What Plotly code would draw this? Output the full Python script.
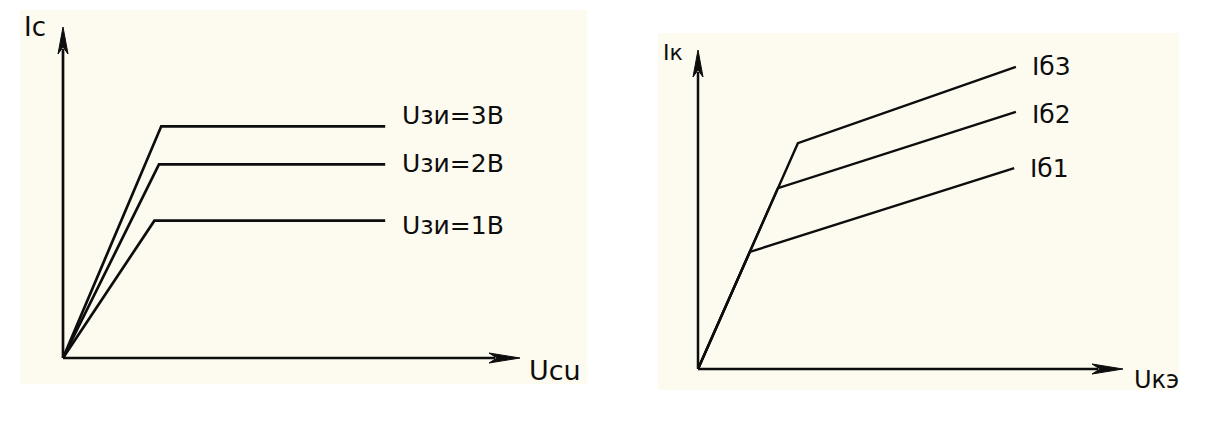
import plotly.graph_objects as go

# ---------------- data ----------------
# Left: field-effect transistor output characteristics
usi_labels = ["Uзи=1В", "Uзи=2В", "Uзи=3В"]
ic_knee_u = [2.0, 2.1, 2.15]      # Uси where saturation starts
ic_sat = [4.15, 5.85, 7.0]        # saturation current Ic
ic_end_u = [7.05, 7.05, 7.05]     # end of drawn curve

# Right: bipolar transistor output characteristics
ib_labels = ["Iб1", "Iб2", "Iб3"]
ik_knee_u = [1.22, 1.88, 2.35]
ik_knee_i = [3.67, 5.67, 7.08]
ik_end_u = [7.44, 7.48, 7.48]
ik_end_i = [6.30, 8.06, 9.47]

axis_max = 10

# ---------------- layout constants ----------------
W, H = 1222, 424
FONT = "DejaVu Sans, Liberation Sans, Arial, sans-serif"
CREAM = "#fdfbf0"
INK = "#0d0d0d"
PAD = 14  # px of padding around the axis box so marks on the axes are not clipped

# axis-box pixel positions: (origin x, arrow-tip x, origin y, arrow-tip y)
BOX_L = (63, 520, 358, 27)
BOX_R = (698, 1123, 369, 50)


def px_x(p):
    return p / W


def px_y(p):
    return 1 - p / H


def axes_for(box, anchor):
    l, r, b, t = box
    ux = axis_max / (r - l)
    uy = axis_max / (b - t)
    common = dict(showgrid=False, zeroline=False, showticklabels=False, ticks="",
                  showline=False, fixedrange=True)
    xa = dict(domain=[px_x(l - PAD), px_x(r + PAD)],
              range=[-PAD * ux, axis_max + PAD * ux], anchor=anchor[1], **common)
    ya = dict(domain=[px_y(b + PAD), px_y(t - PAD)],
              range=[-PAD * uy, axis_max + PAD * uy], anchor=anchor[0], **common)
    return xa, ya, ux, uy


xL, yL, uxL, uyL = axes_for(BOX_L, ("x", "y"))
xR, yR, uxR, uyR = axes_for(BOX_R, ("x2", "y2"))

fig = go.Figure()

# left curves
for i in range(3):
    fig.add_trace(go.Scatter(
        x=[0, ic_knee_u[i], ic_end_u[i]], y=[0, ic_sat[i], ic_sat[i]],
        mode="lines", line=dict(color=INK, width=2.7),
        xaxis="x", yaxis="y", showlegend=False, hoverinfo="skip"))

# right curves
for i in range(3):
    fig.add_trace(go.Scatter(
        x=[0, ik_knee_u[i], ik_end_u[i]], y=[0, ik_knee_i[i], ik_end_i[i]],
        mode="lines", line=dict(color=INK, width=2.4),
        xaxis="x2", yaxis="y2", showlegend=False, hoverinfo="skip"))

shapes = []
# cream panels
shapes.append(dict(type="rect", xref="paper", yref="paper", layer="below",
                   x0=px_x(20), x1=px_x(587), y0=px_y(384), y1=px_y(10),
                   fillcolor=CREAM, line=dict(width=0)))
shapes.append(dict(type="rect", xref="paper", yref="paper", layer="below",
                   x0=px_x(658), x1=px_x(1179), y0=px_y(390), y1=px_y(33),
                   fillcolor=CREAM, line=dict(width=0)))


def arrow_paths(ux, uy):
    m = axis_max
    xa = (f"M{m},0 L{m - 31*ux},{5*uy} L{m - 23*ux},0 "
          f"L{m - 31*ux},{-5*uy} Z")
    ya = (f"M0,{m} L{-5*ux},{m - 27*uy} L0,{m - 20*uy} "
          f"L{5*ux},{m - 27*uy} Z")
    return xa, ya


for (xr, yr, lw, ux, uy) in (("x", "y", 2.7, uxL, uyL), ("x2", "y2", 2.5, uxR, uyR)):
    shapes.append(dict(type="line", xref=xr, yref=yr, x0=0, y0=0, x1=axis_max - 25 * ux, y1=0,
                       line=dict(color=INK, width=lw)))
    shapes.append(dict(type="line", xref=xr, yref=yr, x0=0, y0=0, x1=0, y1=axis_max - 22 * uy,
                       line=dict(color=INK, width=lw)))
    xa, ya = arrow_paths(ux, uy)
    for p in (xa, ya):
        shapes.append(dict(type="path", xref=xr, yref=yr, path=p,
                           fillcolor=INK, line=dict(color=INK, width=1.0)))

annotations = []
lab_font = dict(family=FONT, size=25, color=INK)
left_yshift = [-5, 1, 11]
for i in range(3):
    annotations.append(dict(xref="x", yref="y", x=ic_end_u[i], y=ic_sat[i], text=usi_labels[i],
                            showarrow=False, xanchor="left", yanchor="middle",
                            xshift=15, yshift=left_yshift[i], font=lab_font))
right_yshift = [0, -3, 0]
for i in range(3):
    annotations.append(dict(xref="x2", yref="y2", x=ik_end_u[i], y=ik_end_i[i], text=ib_labels[i],
                            showarrow=False, xanchor="left", yanchor="middle",
                            xshift=14, yshift=right_yshift[i], font=lab_font))

# axis titles
annotations.append(dict(xref="x", yref="y", x=0, y=axis_max, text="Ic", showarrow=False,
                        xanchor="left", yanchor="middle", xshift=-41, yshift=0,
                        font=dict(family=FONT, size=26, color=INK)))
annotations.append(dict(xref="x", yref="y", x=axis_max, y=0, text="Uсu", showarrow=False,
                        xanchor="left", yanchor="middle", xshift=7, yshift=-12,
                        font=dict(family=FONT, size=27, color=INK)))
annotations.append(dict(xref="x2", yref="y2", x=0, y=axis_max, text="Iк", showarrow=False,
                        xanchor="left", yanchor="middle", xshift=-37, yshift=-3,
                        font=dict(family=FONT, size=22, color=INK)))
annotations.append(dict(xref="x2", yref="y2", x=axis_max, y=0, text="Uкэ", showarrow=False,
                        xanchor="left", yanchor="middle", xshift=9, yshift=-11,
                        font=dict(family=FONT, size=24, color=INK)))

fig.update_layout(
    width=W, height=H, autosize=False,
    margin=dict(l=0, r=0, t=0, b=0, pad=0),
    paper_bgcolor="white", plot_bgcolor="rgba(0,0,0,0)",
    xaxis=xL, yaxis=yL, xaxis2=xR, yaxis2=yR,
    shapes=shapes, annotations=annotations,
    showlegend=False,
)

fig.write_html("out.html", config={"displayModeBar": False},
               post_script="document.body.style.margin='0px';document.body.style.overflow='hidden';")
